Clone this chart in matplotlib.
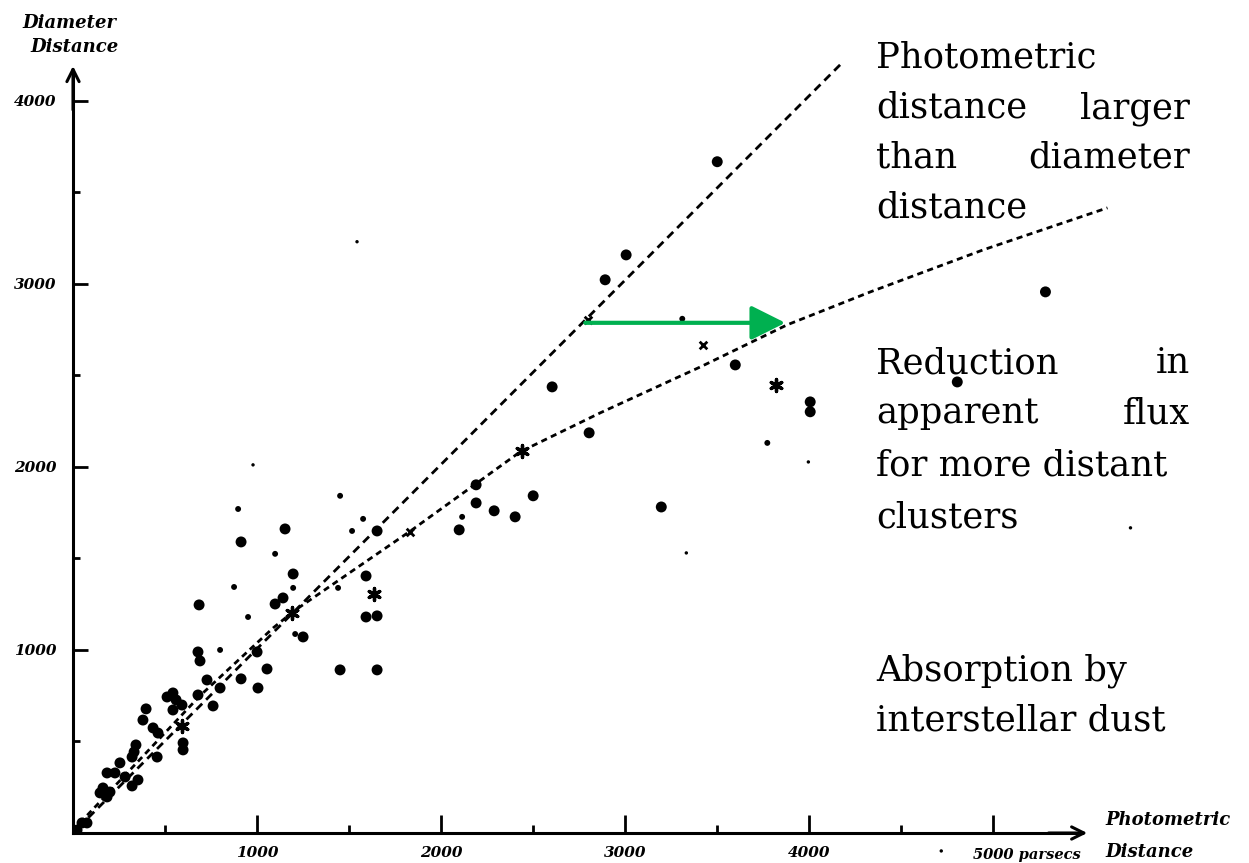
import matplotlib
matplotlib.use("Agg")
import matplotlib.pyplot as plt

# photometric distance (x) vs diameter distance (y), parsecs
big_x = [3500, 3005, 2891, 3598, 4005, 4005, 2603, 2804, 2190, 2500, 2190, 2288, 2402, 2098,
         3196, 4804, 5283, 1152, 913, 1652, 1196, 1592, 685, 1141, 1098, 1592, 1652, 1250,
         679, 690, 1000, 1054, 1451, 1652, 913, 1005, 761, 679, 799, 511, 543, 560, 592, 543,
         598, 598, 397, 380, 435, 462, 457, 342, 332, 321, 255, 228, 185, 283, 321, 353, 163,
         185, 201, 147, 49, 76, 22, 728]
big_y = [3667, 3158, 3022, 2557, 2355, 2301, 2437, 2186, 1902, 1842, 1803, 1760, 1727, 1656,
         1781, 2464, 2956, 1661, 1590, 1650, 1415, 1404, 1246, 1284, 1251, 1180, 1186, 1071,
         989, 940, 989, 896, 891, 891, 842, 792, 694, 754, 792, 743, 765, 727, 699, 672,
         492, 454, 678, 617, 574, 546, 415, 481, 443, 415, 383, 328, 328, 306, 257, 290, 246,
         197, 224, 219, 55, 55, 16, 836]

small_x = [3310, 3772, 2114, 1451, 897, 1576, 1516, 1098, 875, 1196, 1440, 951, 1207, 799]
small_y = [2809, 2131, 1727, 1842, 1770, 1716, 1650, 1525, 1344, 1339, 1339, 1180, 1087, 1000]

tiny_x = [3995, 3332, 1543, 978, 5745, 4717]
tiny_y = [2027, 1530, 3230, 2011, 1667, -98]

cross_x = [2799, 3424, 1832]
cross_y = [2803, 2667, 1645]

star_x = [3821, 1636, 1190, 592, 2440]
star_y = [2448, 1306, 1202, 585, 2087]

# straight relation (no absorption)
line_x = [30, 4168]
line_y = [30, 4197]

# curved relation (with absorption)
curve_x = [38, 690, 1087, 1201, 1842, 2429, 2864, 3408, 3880, 4332, 4946, 5620]
curve_y = [55, 750, 1120, 1213, 1656, 2082, 2295, 2546, 2776, 2956, 3186, 3415]

# green arrow
arrow_x = [2783, 3870]
arrow_y = 2787

major_ticks = [1000, 2000, 3000, 4000]
x_labels = ['1000', '2000', '3000', '4000']
y_labels = ['1000', '2000', '3000', '4000']

W, H = 1249, 863
fig = plt.figure(figsize=(W / 100, H / 100), dpi=100)
ax = fig.add_axes([73 / W, 30 / H, 1040 / W, 778 / H])
ax.set_xlim(0, 5650)
ax.set_ylim(0, 4250)

hand = dict(family='DejaVu Serif', style='italic', weight='bold')

# axes with arrow tips
for s in ['top', 'right']:
    ax.spines[s].set_visible(False)
ax.spines['bottom'].set_linewidth(2.2)
ax.spines['left'].set_linewidth(2.2)
ax.spines['bottom'].set_bounds(0, 5480)
ax.spines['left'].set_bounds(0, 4160)
ax.annotate('', xy=(5510, 0), xytext=(5300, 0),
            arrowprops=dict(arrowstyle='->', lw=2.2, color='black', mutation_scale=22,
                            shrinkA=0, shrinkB=0), annotation_clip=False)
ax.annotate('', xy=(0, 4190), xytext=(0, 3950),
            arrowprops=dict(arrowstyle='->', lw=2.2, color='black', mutation_scale=22,
                            shrinkA=0, shrinkB=0), annotation_clip=False)

ax.set_xticks(major_ticks + [5000])
ax.set_xticklabels(x_labels + [''], fontsize=11, **hand)
ax.set_xticks([500, 1500, 2500, 3500, 4500], minor=True)
ax.set_yticks(major_ticks)
ax.set_yticklabels(y_labels, fontsize=11, **hand)
ax.set_yticks([500, 1500, 2500, 3500], minor=True)
ax.tick_params(axis='x', which='major', direction='in', length=13, width=2, pad=9)
ax.tick_params(axis='x', which='minor', direction='in', length=6, width=2)
ax.tick_params(axis='y', which='major', direction='in', length=11, width=2, pad=12)
ax.tick_params(axis='y', which='minor', direction='in', length=5, width=2)

ax.annotate('5000 parsecs', xy=(5000, 0), xytext=(-15, -16), textcoords='offset points',
            ha='left', va='center', fontsize=10.5, annotation_clip=False, **hand)

# lines
ax.plot(line_x, line_y, color='black', lw=2, linestyle=(0, (3, 2)))
ax.plot(curve_x, curve_y, color='black', lw=2, linestyle=(0, (2.2, 1.6)), clip_on=False)

# points
ax.scatter(big_x, big_y, s=62, color='black', edgecolors='none', zorder=3)
ax.scatter(small_x, small_y, s=18, color='black', edgecolors='none', zorder=3)
ax.scatter(tiny_x, tiny_y, s=6, color='black', edgecolors='none', zorder=3, clip_on=False)
ax.scatter(cross_x, cross_y, s=30, marker='x', color='black', linewidths=2, zorder=3)
ax.scatter(star_x, star_y, s=75, marker=(6, 2, 0), color='black', linewidths=2.4, zorder=3)

# green arrow
ax.annotate('', xy=(arrow_x[1], arrow_y), xytext=(arrow_x[0], arrow_y),
            arrowprops=dict(arrowstyle='-|>,head_length=1.0,head_width=0.5', lw=3,
                            color='#00B050', mutation_scale=21, shrinkA=0, shrinkB=0),
            zorder=4)

# axis titles, hand lettering
fig.text(22 / W, 1 - 28 / H, 'Diameter', fontsize=13, ha='left', va='baseline', **hand)
fig.text(30 / W, 1 - 52 / H, 'Distance', fontsize=13, ha='left', va='baseline', **hand)
fig.text(1105 / W, 1 - 825 / H, 'Photometric', fontsize=13, ha='left', va='baseline', **hand)
fig.text(1105 / W, 1 - 857 / H, 'Distance', fontsize=13, ha='left', va='baseline', **hand)

# annotations on the right, justified lines
note = dict(family='DejaVu Serif', fontsize=25.5, va='baseline')
L, R = 876 / W, 1190 / W
lines = [
    (67, ['Photometric']),
    (118, ['distance', 'larger']),
    (168, ['than', 'diameter']),
    (217, ['distance']),
    (373, ['Reduction', 'in']),
    (423, ['apparent', 'flux']),
    (475, ['for more distant']),
    (527, ['clusters']),
    (680, ['Absorption by']),
    (730, ['interstellar dust']),
]
for py, words in lines:
    y = 1 - py / H
    fig.text(L, y, words[0], ha='left', **note)
    if len(words) > 1:
        fig.text(R, y, words[-1], ha='right', **note)

fig.savefig('out.png', dpi=100)
